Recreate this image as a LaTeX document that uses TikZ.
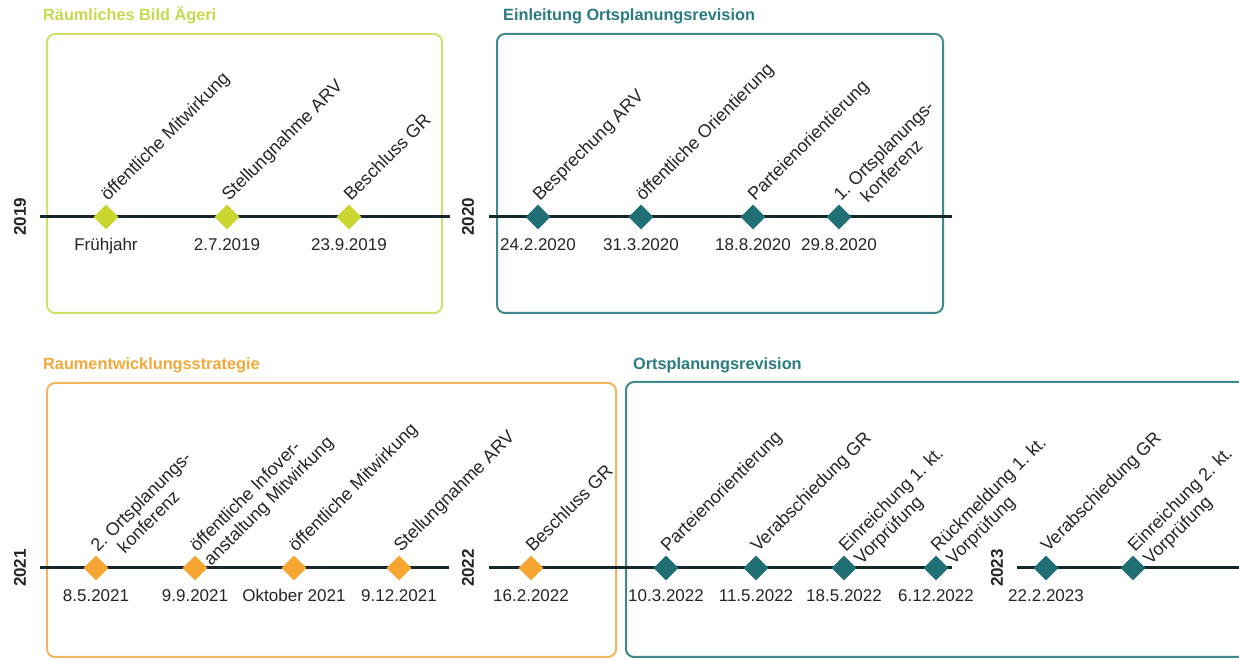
\documentclass[tikz,border=0pt]{standalone}
\usepackage{fontspec}
\setmainfont{Liberation Sans}
\usetikzlibrary{shapes.geometric}
\definecolor{limed}{HTML}{C9D630}
\definecolor{limeb}{HTML}{D2DF6A}
\definecolor{limet}{HTML}{C8D84C}
\definecolor{teald}{HTML}{1F6F75}
\definecolor{tealb}{HTML}{3D898E}
\definecolor{tealt}{HTML}{2A7B80}
\definecolor{orad}{HTML}{F5A530}
\definecolor{orab}{HTML}{F2B45E}
\definecolor{orat}{HTML}{F4A83A}
\definecolor{linec}{HTML}{14282B}
\definecolor{txt}{HTML}{222626}
\newcommand{\tlevent}[6]{%
  \node[dmd=#4] (#1) at (#2,#3) {};
  \node[evlbl] (#1l) at ([shift={(2,15)}]#1.center) {#5};
  \node[datelbl] (#1d) at ([shift={(0,-34)}]#1.center) {#6};}
\begin{document}
\frenchspacing
\begin{tikzpicture}[x=1pt,y=1pt,
  tline/.style={draw=linec, line width=3pt},
  dmd/.style={diamond, minimum width=25pt, minimum height=25pt, inner sep=0pt, fill=#1},
  evlbl/.style={rotate=45, anchor=base west, inner sep=0pt, font=\fontsize{18}{20}\selectfont, text=txt},
  datelbl/.style={anchor=base, inner sep=0pt, font=\fontsize{17}{19}\selectfont, text=txt},
  yearlbl/.style={rotate=90, inner sep=0pt, font=\bfseries\fontsize{17}{19}\selectfont, text=txt},
  ttl/.style={anchor=base west, inner sep=0pt, font=\bfseries\fontsize{16.3}{19}\selectfont, text=#1},
  boxframe/.style={draw=#1, line width=2pt, rounded corners=8pt}
]
\clip (0,0) rectangle (1239,660);
% frames
\draw[boxframe=limeb] (47,347) rectangle (442,626);
\draw[boxframe=tealb] (497,347) rectangle (943,626);
\draw[boxframe=orab] (47,3) rectangle (616,277);
\draw[boxframe=tealb] (626,3) rectangle (1262,278);
% titles
\node[ttl=limet] (ti1) at (43,639) {Räumliches Bild Ägeri};
\node[ttl=tealt] (ti2) at (503,639) {Einleitung Ortsplanungsrevision};
\node[ttl=orat] (ti3) at (43,290) {Raumentwicklungsstrategie};
\node[ttl=tealt] (ti4) at (633,290) {Ortsplanungsrevision};
% timelines
\coordinate (a0) at (40,443); \coordinate (a1) at (450,443);
\coordinate (b0) at (489,443); \coordinate (b1) at (952,443);
\coordinate (c0) at (40,92); \coordinate (c1) at (449,92);
\coordinate (e0) at (489,92); \coordinate (e1) at (952,92);
\coordinate (f0) at (1017,92); \coordinate (f1) at (1245,92);
\draw[tline] (a0) -- (a1);
\draw[tline] (b0) -- (b1);
\draw[tline] (c0) -- (c1);
\draw[tline] (e0) -- (e1);
\draw[tline] (f0) -- (f1);
% years
\node[yearlbl] (y19) at (20,443) {2019};
\node[yearlbl] (y20) at (468,443) {2020};
\node[yearlbl] (y21) at (20,92) {2021};
\node[yearlbl] (y22) at (468,92) {2022};
\node[yearlbl] (y23) at (997,92) {2023};
% row 1 left
\tlevent{p1}{106}{443}{limed}{öffentliche Mitwirkung}{Frühjahr}
\tlevent{p2}{227}{443}{limed}{Stellungnahme ARV}{2.7.2019}
\tlevent{p3}{349}{443}{limed}{Beschluss GR}{23.9.2019}
% row 1 right
\tlevent{q1}{538}{443}{teald}{Besprechung ARV}{24.2.2020}
\tlevent{q2}{641}{443}{teald}{öffentliche Orientierung}{31.3.2020}
\tlevent{q3}{753}{443}{teald}{Parteienorientierung}{18.8.2020}
\tlevent{q4}{839}{443}{teald}{1. Ortsplanungs-}{29.8.2020}
\node[evlbl] (q4m) at ([shift={(26.8,-1.4)}]q4l.base west) {konferenz};
% row 2 left
\tlevent{r1}{96}{92}{orad}{2. Ortsplanungs-}{8.5.2021}
\node[evlbl] (r1m) at ([shift={(26.8,-1.4)}]r1l.base west) {konferenz};
\tlevent{r2}{195}{92}{orad}{öffentliche Infover-}{9.9.2021}
\node[evlbl] (r2m) at ([shift={(14.1,-14.1)}]r2l.base west) {anstaltung Mitwirkung};
\tlevent{r3}{294}{92}{orad}{öffentliche Mitwirkung}{Oktober 2021}
\tlevent{r4}{399}{92}{orad}{Stellungnahme ARV}{9.12.2021}
\tlevent{r5}{531}{92}{orad}{Beschluss GR}{16.2.2022}
% row 2 right
\tlevent{s1}{666}{92}{teald}{Parteienorientierung}{10.3.2022}
\tlevent{s2}{756}{92}{teald}{Verabschiedung GR}{11.5.2022}
\tlevent{s3}{844}{92}{teald}{Einreichung 1. kt.}{18.5.2022}
\node[evlbl] (s3m) at ([shift={(15.5,-12.7)}]s3l.base west) {Vorprüfung};
\tlevent{s4}{936}{92}{teald}{Rückmeldung 1. kt.}{6.12.2022}
\node[evlbl] (s4m) at ([shift={(15.5,-12.7)}]s4l.base west) {Vorprüfung};
\tlevent{s5}{1046}{92}{teald}{Verabschiedung GR}{22.2.2023}
\tlevent{s6}{1133}{92}{teald}{Einreichung 2. kt.}{}
\node[evlbl] (s6m) at ([shift={(15.5,-12.7)}]s6l.base west) {Vorprüfung};
\end{tikzpicture}
\end{document}
